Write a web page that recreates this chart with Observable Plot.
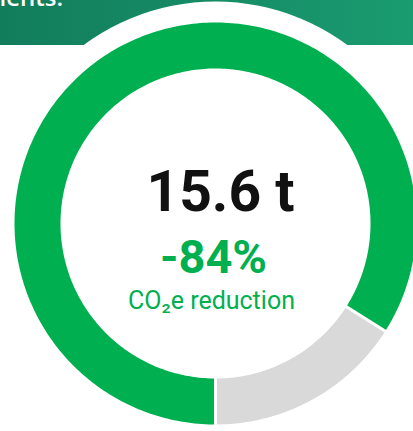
<!DOCTYPE html>
<html>
<head>
<meta charset="utf-8">
<script src="https://cdn.jsdelivr.net/npm/d3@7"></script>
<script src="https://cdn.jsdelivr.net/npm/@observablehq/plot@0.6"></script>
<style>
  html, body { margin: 0; padding: 0; background: #ffffff; overflow: hidden; }
  #wrap { position: relative; width: 413px; height: 431px; }
  #banner { position: absolute; left: 0; top: 0; width: 413px; height: 45px;
            background: linear-gradient(90deg, #127d5b 0%, #1a9b70 100%); overflow: hidden; }
  #banner span { position: absolute; right: 350px; top: -20px; color: #fff;
                 font: 600 24px "Open Sans", sans-serif; white-space: nowrap; }
  #chart { position: absolute; left: 0; top: 0; }
</style>
</head>
<body>
<div id="wrap">
  <div id="banner"><span>environments.</span></div>
  <div id="chart"></div>
</div>
<script>
// ---- data ----
const categories = ["CO₂e reduction", "Remaining"];
const shares = [84, 16];
const colors = ["#00b050", "#d9d9d9"];
const totalLabel = ["15.6 t"];
const percentLabel = ["-84%"];
const captionLabel = ["CO₂e reduction"];

// ---- layout ----
const W = 413, H = 431;
const cx = 215, cy = 223, R = 201, ring = 46;
const rMid = (R - ring / 2) / R;          // ring centre line in unit radius
const rIn = (R - ring) / R;

// build arc paths (angle measured clockwise from 12 o'clock, starting at 6 o'clock)
const total = d3.sum(shares);
const arcPts = [];
const bounds = [];
let acc = 0;
categories.forEach((c, i) => {
  const a0 = 180 + acc / total * 360;
  acc += shares[i];
  const a1 = 180 + acc / total * 360;
  bounds.push(a0);
  const n = Math.max(2, Math.ceil(a1 - a0));
  for (let k = 0; k <= n; k++) {
    const a = (a0 + (a1 - a0) * k / n) * Math.PI / 180;
    arcPts.push({cat: c, x: rMid * Math.sin(a), y: rMid * Math.cos(a)});
  }
});
const seps = bounds.map(b => {
  const a = b * Math.PI / 180;
  return {x1: rIn * 0.98 * Math.sin(a), y1: rIn * 0.98 * Math.cos(a),
          x2: 1.02 * Math.sin(a), y2: 1.02 * Math.cos(a)};
});

const plot = Plot.plot({
  width: W, height: H, margin: 0,
  style: {background: "transparent", overflow: "visible"},
  x: {domain: [-1, 1], range: [cx - R, cx + R], axis: null},
  y: {domain: [-1, 1], range: [cy + R, cy - R], axis: null},
  color: {domain: categories, range: colors},
  marks: [
    Plot.dot([{x: 0, y: 0}], {x: "x", y: "y", r: 222, fill: "#ffffff", stroke: "none"}),
    Plot.line(arcPts, {x: "x", y: "y", z: "cat", stroke: "cat", strokeWidth: ring,
                       strokeLinecap: "butt", curve: "linear"}),
    Plot.link(seps, {x1: "x1", y1: "y1", x2: "x2", y2: "y2", stroke: "#ffffff", strokeWidth: 3}),
    Plot.text(totalLabel, {x: () => 0, y: () => 0, text: d => d, dx: 5, dy: -13, lineAnchor: "bottom",
      fontSize: 57, fontWeight: 700, fill: "#111111", fontFamily: "Roboto", textAnchor: "middle"}),
    Plot.text(percentLabel, {x: () => 0, y: () => 0, text: d => d, dx: -2, dy: 49, lineAnchor: "bottom",
      fontSize: 47, fontWeight: 700, fill: "#00b050", fontFamily: "Roboto", textAnchor: "middle"}),
    Plot.text(captionLabel, {x: () => 0, y: () => 0, text: d => d, dx: -4, dy: 85, lineAnchor: "bottom",
      fontSize: 25, fontWeight: 400, fill: "#00b050", fontFamily: "Roboto", textAnchor: "middle"})
  ]
});
document.getElementById("chart").appendChild(plot);
</script>
</body>
</html>
